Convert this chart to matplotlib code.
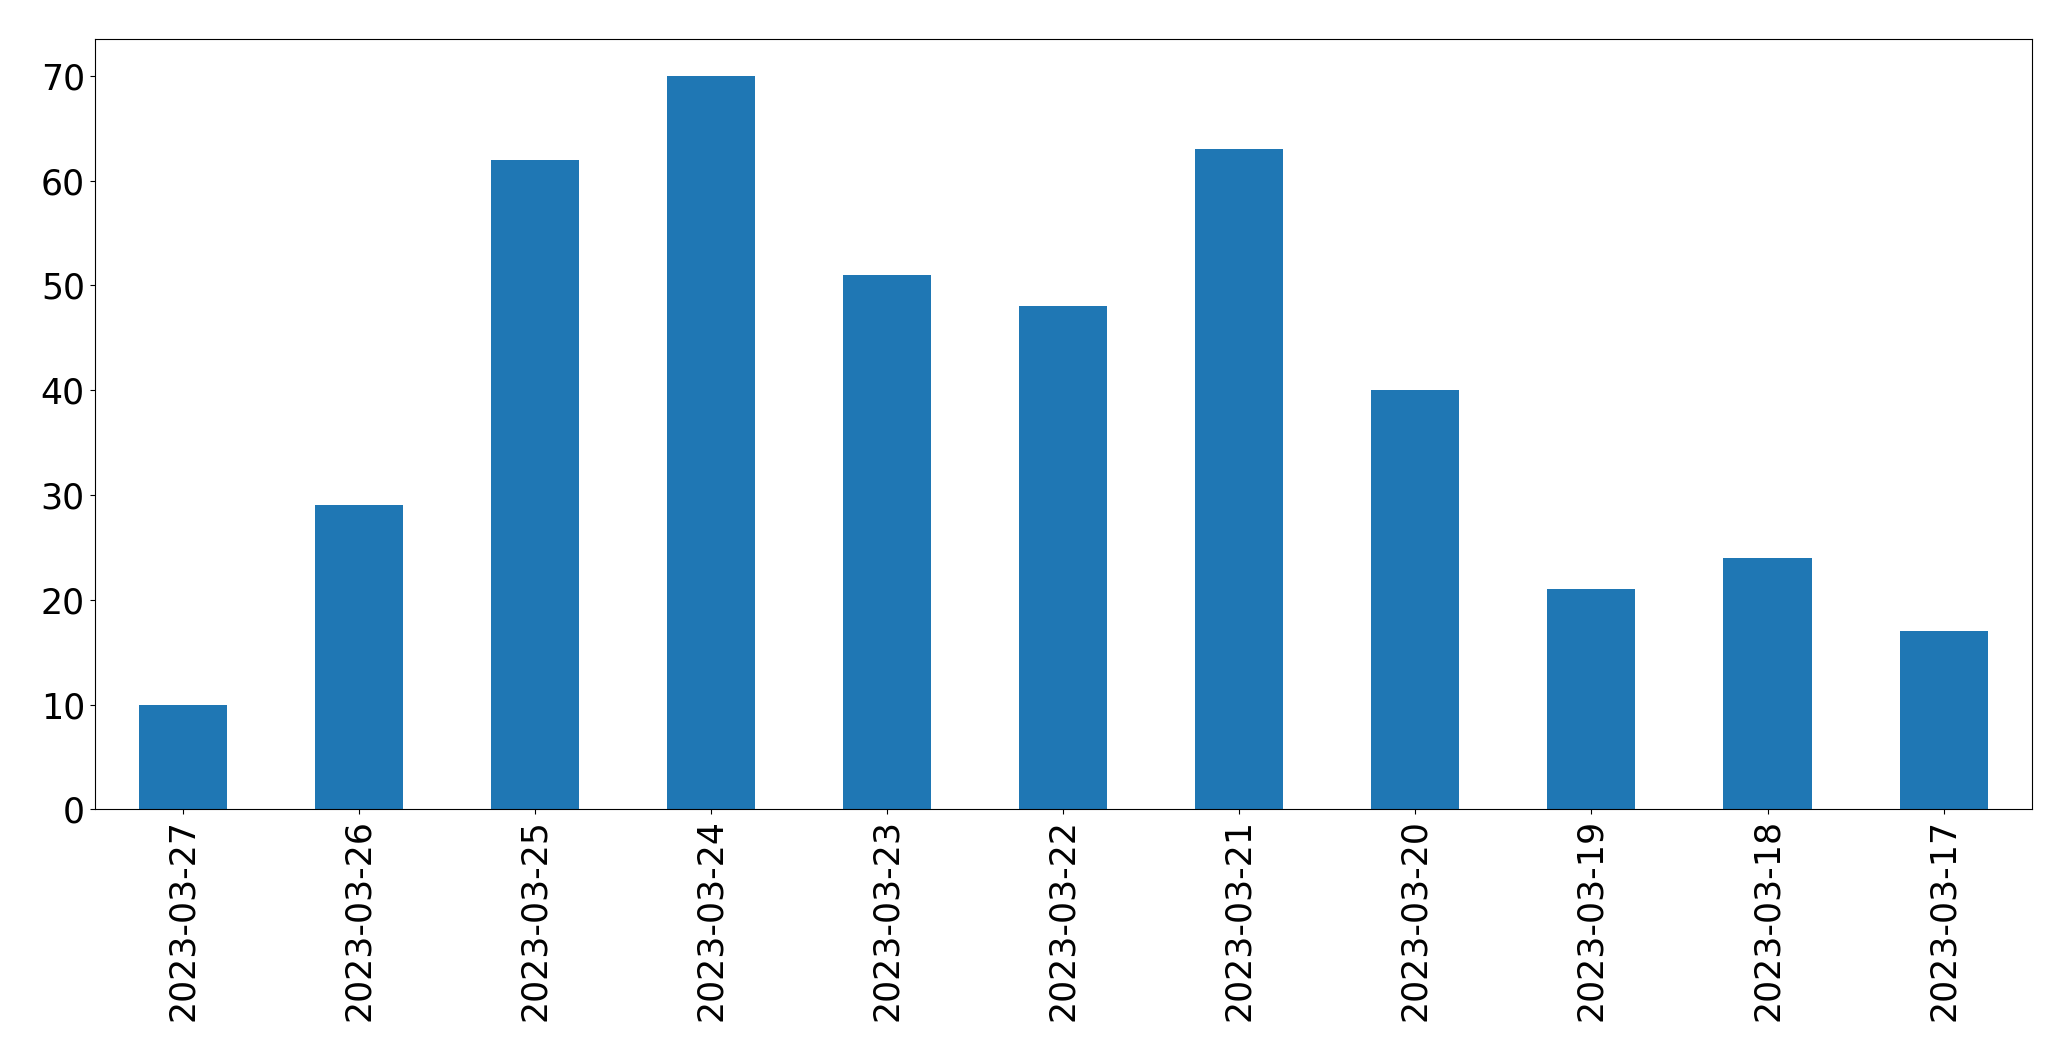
import pandas as pd
import matplotlib.pyplot as plt

dates = ['2023-03-27', '2023-03-26', '2023-03-25', '2023-03-24', '2023-03-23', '2023-03-22',
         '2023-03-21', '2023-03-20', '2023-03-19', '2023-03-18', '2023-03-17']
counts = [10, 29, 62, 70, 51, 48, 63, 40, 21, 24, 17]

s = pd.Series(counts, index=dates)

fig, ax = plt.subplots(figsize=(20.71, 10.61), dpi=100)
s.plot(kind='bar', ax=ax, fontsize=25)
plt.subplots_adjust(left=0.0457, right=0.981, top=0.963, bottom=0.2372)
plt.savefig('out.png', dpi=100)
